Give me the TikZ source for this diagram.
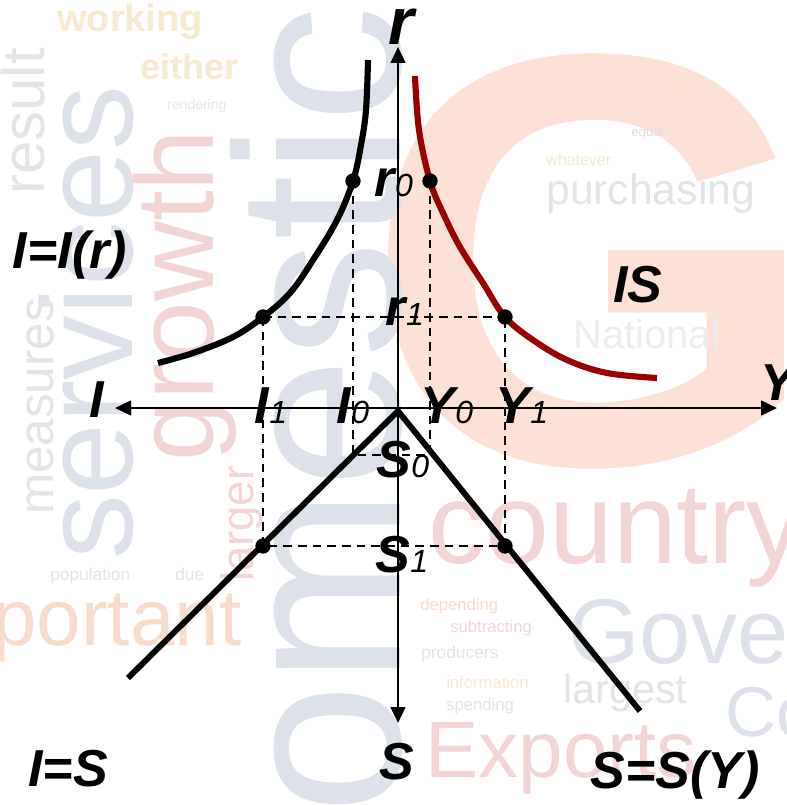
\documentclass[tikz,border=0pt]{standalone}
\usepackage{fontspec}
\setmainfont{Liberation Sans}
\usetikzlibrary{arrows.meta}
\definecolor{bgblue}{RGB}{221,226,234}
\definecolor{bgred}{RGB}{243,212,212}
\definecolor{bgpeach}{RGB}{253,225,214}
\definecolor{bgorange}{RGB}{247,220,203}
\definecolor{bgyellow}{RGB}{246,234,208}
\definecolor{bggrey}{RGB}{226,228,232}
\definecolor{bglight}{RGB}{236,236,238}
\definecolor{bgpurple}{RGB}{236,215,225}
\definecolor{isred}{RGB}{153,0,0}
\newcommand{\myfs}[1]{\fontsize{#1}{#1}\selectfont}
\newcommand{\subs}[1]{{\myfs{24}\mdseries\itshape #1}}
\begin{document}
\begin{tikzpicture}[x=0.75pt,y=-0.75pt,
  lab/.style={inner sep=0pt, anchor=base, font=\myfs{39}\bfseries\itshape},
  bgw/.style={inner sep=0pt, anchor=base west},
  bgv/.style={inner sep=0pt, anchor=base west, rotate=90},
  curve/.style={line width=4.6pt},
  slant/.style={line width=4.4pt, line join=miter},
  axisline/.style={line width=1.9pt},
  guide/.style={line width=1.4pt, dash pattern=on 6.5pt off 4.5pt},
  dot/.style={circle, fill=black, inner sep=0pt, minimum size=11.5pt},
  tip/.style={{Triangle[length=12pt,width=11pt]}-{Triangle[length=12pt,width=11pt]}}]
\useasboundingbox (0,0) rectangle (786,805);
\fill[white] (0,0) rectangle (786,805);
% ---------- faded word-cloud background ----------
\begin{scope}
\clip (0,0) rectangle (786,805);
\node[bgw, text=bgpeach, font=\myfs{440}\bfseries] (bgG) at (364,463) {G};
\node[bgv, text=bgblue, font=\myfs{176}] (bgomestic) at (400,815) {omestic};
\node[bgv, text=bgblue, font=\myfs{97}] (bgservices) at (132,560) {services};
\node[bgv, text=bgred, font=\myfs{83}] (bggrowth) at (213,462) {growth};
\node[bgv, text=bggrey, font=\myfs{45}] (bgresult) at (44,195) {result};
\node[bgv, text=bggrey, font=\myfs{37}] (bgmeasures) at (53,515) {measures};
\node[bgv, text=bgred, font=\myfs{34}] (bglarger) at (253,582) {larger};
\node[bgw, text=bgorange, font=\myfs{60}] (bgportant) at (-8,645) {portant};
\node[bgw, text=bgred, font=\myfs{86}] (bgcountry) at (428,563) {country};
\node[bgw, text=bgblue, font=\myfs{69}] (bggov) at (568,663) {Government};
\node[bgw, text=bgred, font=\myfs{60}] (bgexports) at (425,777) {Exports};
\node[bgw, text=bgblue, font=\myfs{53}] (bgco) at (725,736) {Co};
\node[bgw, text=bggrey, font=\myfs{31}] (bglargest) at (563,703) {largest};
\node[bgw, text=bggrey, font=\myfs{32}] (bgpurch) at (546,205) {purchasing};
\node[bgw, text=bglight, font=\myfs{30}] (bgnational) at (573,348) {National};
\node[bgw, text=bgyellow, font=\myfs{28.5}\bfseries] (bgworking) at (57,32) {working};
\node[bgw, text=bgyellow, font=\myfs{27}\bfseries] (bgeither) at (140,80) {either};
\node[bgw, text=bggrey, font=\myfs{10.5}] (bgrender) at (167,110) {rendering};
\node[bgw, text=bggrey, font=\myfs{13}] (bgpop) at (50,580) {population};
\node[bgw, text=bggrey, font=\myfs{13}] (bgdue) at (175,580) {due};
\node[bgw, text=bgorange, font=\myfs{12.5}] (bgdep) at (420,610) {depending};
\node[bgw, text=bgpurple, font=\myfs{12.5}] (bgsub) at (450,632) {subtracting};
\node[bgw, text=bggrey, font=\myfs{13}] (bgprod) at (421,658) {producers};
\node[bgw, text=bgyellow, font=\myfs{12.5}] (bginfo) at (446,688) {information};
\node[bgw, text=bggrey, font=\myfs{12.5}] (bgspend) at (446,710) {spending};
\node[bgw, text=bgpurple, font=\myfs{10}] (bgequal) at (631,137) {equal};
\node[bgw, text=bgyellow, font=\myfs{12}] (bgwhat) at (546,166) {whatever};
\end{scope}
% ---------- key points ----------
\coordinate (O) at (398,411);
\coordinate (rtop) at (398,47);
\coordinate (sbot) at (398,723);
\coordinate (ileft) at (115,408);
\coordinate (yright) at (777,408);
\coordinate (A0) at (353,181);
\coordinate (B0) at (430,181);
\coordinate (A1) at (263,317);
\coordinate (B1) at (505,317);
\coordinate (C1) at (263,546);
\coordinate (D1) at (505,546);
\coordinate (C0) at (353,455);
\coordinate (E0) at (432,455);
\coordinate (D0) at (430,451);
\coordinate (LL) at (128,678);
\coordinate (RL) at (640,711);
% ---------- dashed guides ----------
\draw[guide] (A0) -- (C0) -- (E0);
\draw[guide] (B0) -- (D0);
\draw[guide] (A1) -- (B1);
\draw[guide] (A1) -- (C1) -- (D1) -- (B1);
% ---------- curves ----------
\draw[curve] plot[smooth, tension=0.6] coordinates {(368,60) (366,110) (361,145) (A0) (337,220) (313,260) (290,293) (A1) (233,337) (193,353) (158,363)};
\draw[curve, isred] plot[smooth, tension=0.6] coordinates {(415,76) (419,130) (B0) (443,213) (460,247) (483,283) (B1) (533,340) (567,360) (607,373) (657,378)};
\draw[slant] (LL) -- (O) -- (RL);
% ---------- axes ----------
\draw[axisline, tip] (rtop) -- (sbot);
\draw[axisline, tip] (ileft) -- (yright);
% ---------- dots ----------
\node[dot] (dA0) at (A0) {};
\node[dot] (dB0) at (B0) {};
\node[dot] (dA1) at (A1) {};
\node[dot] (dB1) at (B1) {};
\node[dot] (dC1) at (C1) {};
\node[dot] (dD1) at (D1) {};
% ---------- labels ----------
\node[lab, font=\myfs{49.5}\bfseries\itshape] (lr) at (401,45) {r};
\node[lab] (lr0) at (394,197) {r\subs{0}};
\node[lab] (lr1) at (405,325) {r\subs{1}};
\node[lab] (lI1) at (271,423) {I\subs{1}};
\node[lab] (lI0) at (353,423) {I\subs{0}};
\node[lab] (lY0) at (447,423) {Y\subs{0}};
\node[lab] (lY1) at (522,423) {Y\subs{1}};
\node[lab] (lS0) at (403,477) {S\subs{0}};
\node[lab] (lS1) at (402,572) {S\subs{1}};
\node[lab] (lI) at (97,417) {I};
\node[lab] (lY) at (778,400) {Y};
\node[lab] (lIr) at (70,268) {I=I(r)};
\node[lab] (lIS) at (638,302) {IS};
\node[lab] (lIeqS) at (68,786) {I=S};
\node[lab] (lS) at (397,779) {S};
\node[lab] (lSY) at (675,788) {S=S(Y)};
\end{tikzpicture}
\end{document}
